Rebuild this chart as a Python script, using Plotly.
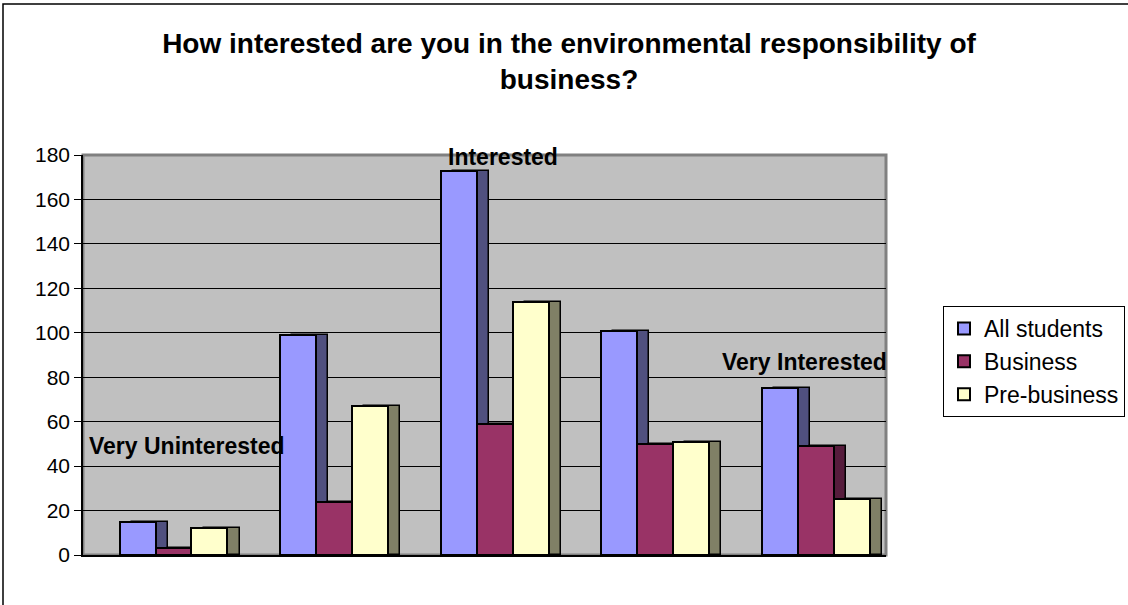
import plotly.graph_objects as go

# ---- data ----
categories = ["Very Uninterested", "Uninterested", "Interested", "Neutral", "Very Interested"]
series_names = ["All students", "Business", "Pre-business"]
all_students = [15, 99, 173, 101, 75]
business = [3, 24, 59, 50, 49]
pre_business = [12, 67, 114, 51, 25]
y_ticks = [0, 20, 40, 60, 80, 100, 120, 140, 160, 180]

# category labels shown on chart (only some categories are labelled)
label_text = ["Very Uninterested", None, "Interested", None, "Very Interested"]
label_y = [49, None, 179, None, 87]
label_xshift = [13, 0, 8, 0, -11]

front_colors = ["#9999FF", "#993366", "#FFFFCC"]
side_colors = ["#50507F", "#561C3C", "#808066"]

FONT = "Liberation Sans, Arial, sans-serif"

values = [all_students, business, pre_business]
xs = list(range(len(categories)))
bar_w = 0.224
offsets = [-1.5 * bar_w, -0.5 * bar_w, 0.5 * bar_w]
depth = 0.075

fig = go.Figure()

# side (depth) faces, drawn behind
for name, vals, off, sc in zip(series_names, values, offsets, side_colors):
    fig.add_trace(go.Bar(
        x=xs, y=vals, offset=off + depth, width=bar_w,
        marker=dict(color=sc, line=dict(color="black", width=1.5)),
        showlegend=False, hoverinfo="skip",
    ))

# front faces
for name, vals, off, fc in zip(series_names, values, offsets, front_colors):
    fig.add_trace(go.Bar(
        x=xs, y=vals, offset=off, width=bar_w, name=name,
        marker=dict(color=fc, line=dict(color="black", width=2)),
    ))

annotations = []
for i, (t, yv, xs_) in enumerate(zip(label_text, label_y, label_xshift)):
    if t is None:
        continue
    annotations.append(dict(
        x=i, y=yv, xref="x", yref="y", text="<b>" + t + "</b>", showarrow=False,
        xshift=xs_, font=dict(family=FONT, size=23, color="black"),
        xanchor="center", yanchor="middle",
    ))

L, R, T, B = 83, 886, 155, 555
W, H = 1128, 605
pw, ph = R - L, B - T

shapes = [
    # outer chart border (extends past right and bottom edges)
    dict(type="rect", xref="paper", yref="paper",
         x0=(3 - L) / pw, x1=(1140 - L) / pw,
         y0=(B - 620) / ph, y1=(B - 4) / ph,
         line=dict(color="black", width=1.5), fillcolor="rgba(0,0,0,0)", layer="below"),
    # wall border
    dict(type="rect", xref="paper", yref="paper", x0=0, x1=1, y0=0, y1=1,
         line=dict(color="#808080", width=3), fillcolor="rgba(0,0,0,0)", layer="below"),
]

fig.update_layout(
    width=W, height=H,
    margin=dict(l=L, r=W - R, t=T, b=H - B, autoexpand=False),
    paper_bgcolor="white", plot_bgcolor="#C0C0C0",
    barmode="overlay",
    title=dict(
        text="<b>How interested are you in the environmental responsibility of<br>business?</b>",
        x=569 / W, xanchor="center", y=1 - 53 / H, yanchor="middle",
        font=dict(family=FONT, size=28, color="black"),
    ),
    font=dict(family=FONT, color="black"),
    xaxis=dict(range=[-0.5635, 4.4365], showticklabels=False, ticks="",
               showgrid=False, zeroline=False, showline=True,
               linecolor="black", linewidth=2),
    yaxis=dict(range=[0, 180], tickvals=y_ticks, ticks="outside", ticklen=7,
               tickcolor="black", tickfont=dict(family=FONT, size=21, color="black"),
               showgrid=True, gridcolor="black", gridwidth=1, zeroline=False,
               showline=True, linecolor="black", linewidth=1.5),
    legend=dict(
        xref="container", yref="container",
        x=943 / W, y=1 - 306 / H, xanchor="left", yanchor="top",
        bordercolor="black", borderwidth=1, bgcolor="white",
        font=dict(family=FONT, size=23, color="black"),
        traceorder="normal", itemwidth=30,
    ),
    annotations=annotations,
    shapes=shapes,
    bargap=0,
)

fig.write_html("out.html")
